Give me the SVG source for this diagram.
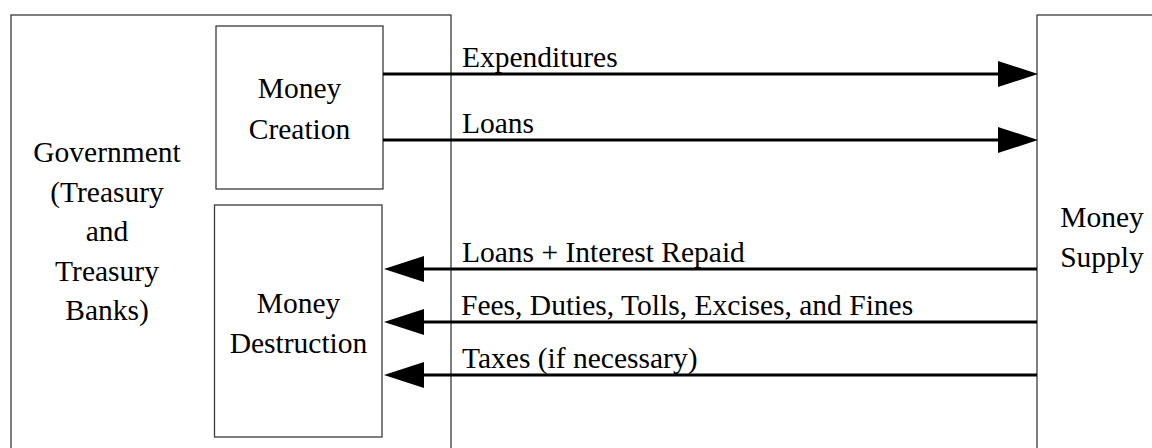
<svg xmlns="http://www.w3.org/2000/svg" width="1152" height="448" viewBox="0 0 1152 448">
  <style>
    .box { fill: #ffffff; stroke: #3a3a3a; stroke-width: 1.3; }
    .lbl { font-family: "Liberation Serif", "Times New Roman", serif; font-size: 29.5px; fill: #000000; }
    .mid { text-anchor: middle; }
    .flow { stroke: #000000; stroke-width: 3.2; fill: none; }
  </style>
  <defs>
    <marker id="head" markerUnits="userSpaceOnUse" markerWidth="40" markerHeight="26" refX="0" refY="13" orient="auto" viewBox="0 0 40 26">
      <path d="M0,0 L40,13 L0,26 Z" fill="#000000"/>
    </marker>
  </defs>
  <rect x="0" y="0" width="1152" height="448" fill="#ffffff"/>

  <g id="government">
    <rect class="box" x="11" y="15" width="440" height="460"/>
    <text class="lbl mid" x="107" y="162">Government</text>
    <text class="lbl mid" x="107" y="201.5">(Treasury</text>
    <text class="lbl mid" x="107" y="241">and</text>
    <text class="lbl mid" x="107" y="281">Treasury</text>
    <text class="lbl mid" x="107" y="320">Banks)</text>
  </g>

  <g id="money-creation">
    <rect class="box" x="216" y="26" width="167" height="163"/>
    <text class="lbl mid" x="299.5" y="98">Money</text>
    <text class="lbl mid" x="299.5" y="139">Creation</text>
  </g>

  <g id="money-destruction">
    <rect class="box" x="214.5" y="205" width="167.5" height="232"/>
    <text class="lbl mid" x="298.5" y="313">Money</text>
    <text class="lbl mid" x="298.5" y="353">Destruction</text>
  </g>

  <g id="money-supply">
    <rect class="box" x="1037" y="15" width="200" height="460"/>
    <text class="lbl mid" x="1102" y="227">Money</text>
    <text class="lbl mid" x="1102" y="267">Supply</text>
  </g>

  <g id="connectors">
    <line class="flow" x1="383" y1="74" x2="998" y2="74" marker-end="url(#head)"/>
    <line class="flow" x1="383" y1="140" x2="998" y2="140" marker-end="url(#head)"/>
    <line class="flow" x1="1037" y1="269" x2="424" y2="269" marker-end="url(#head)"/>
    <line class="flow" x1="1037" y1="322" x2="424" y2="322" marker-end="url(#head)"/>
    <line class="flow" x1="1037" y1="375" x2="424" y2="375" marker-end="url(#head)"/>
    <text class="lbl" x="462" y="67">Expenditures</text>
    <text class="lbl" x="462" y="133">Loans</text>
    <text class="lbl" x="462" y="262">Loans + Interest Repaid</text>
    <text class="lbl" x="461" y="315">Fees, Duties, Tolls, Excises, and Fines</text>
    <text class="lbl" x="462" y="368">Taxes (if necessary)</text>
  </g>
</svg>
